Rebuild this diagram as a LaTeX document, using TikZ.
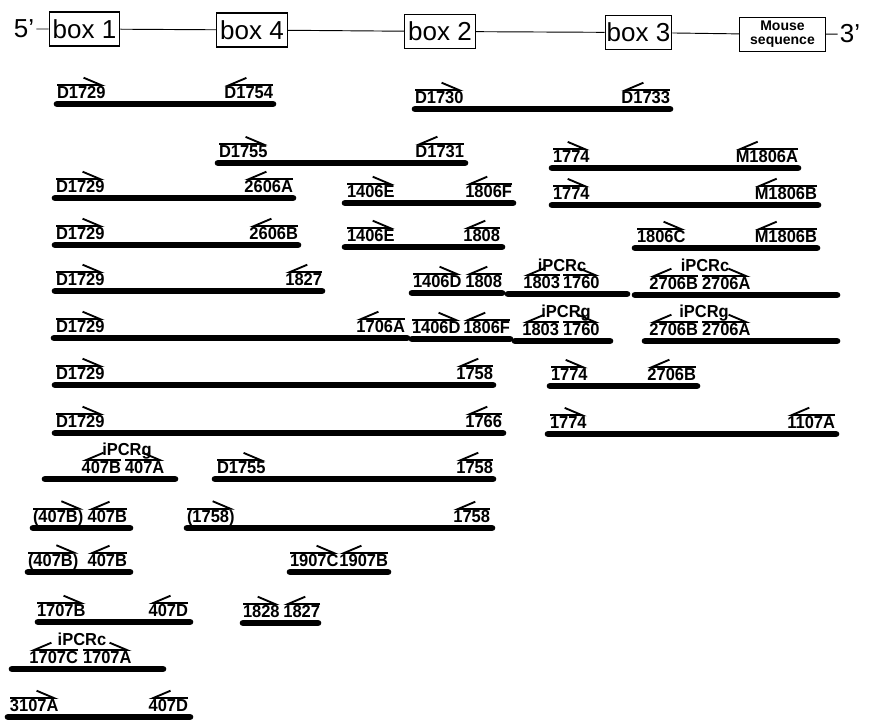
\documentclass[tikz,border=0pt]{standalone}
\usepackage{fontspec}
\setmainfont{Liberation Sans}
\newfontfamily\primfont[FakeStretch=0.95]{Liberation Sans}
\usepackage{tikz}
\usetikzlibrary{arrows.meta}
\tikzset{
  >=Stealth,
  lbl/.style={font=\primfont\bfseries\fontsize{13}{14}\selectfont,inner sep=0pt,outer sep=0pt},
  harp/.style={line width=1.4pt},
  fwd/.style={lbl,anchor=base west,append after command={
      \pgfextra{\let\primnode\tikzlastnode}
      ([yshift=1.4pt]\primnode.north west) edge[harp,-{Straight Barb[left,length=13pt,width=11pt]}]
      ([yshift=1.4pt]\primnode.north east)}},
  rev/.style={lbl,anchor=base east,append after command={
      \pgfextra{\let\primnode\tikzlastnode}
      ([yshift=1.4pt]\primnode.north east) edge[harp,-{Straight Barb[right,length=13pt,width=11pt]}]
      ([yshift=1.4pt]\primnode.north west)}},
  ipcr/.style={lbl,anchor=base},
  frag/.style={line width=5pt,line cap=round},
  exon/.style={draw,line width=0.8pt,minimum width=53pt,minimum height=25.5pt,inner sep=0pt,
               font=\fontsize{19.5}{22}\selectfont},
  msq/.style={draw,line width=0.8pt,minimum width=64pt,minimum height=26pt,inner sep=0pt,align=center,
              font=\bfseries\fontsize{10.5}{10.5}\selectfont},
  tip/.style={inner sep=1.5pt,font=\fontsize{19.5}{22}\selectfont},
  gene/.style={line width=0.7pt},
}
\begin{document}
\begin{tikzpicture}[x=0.75pt,y=-0.75pt]
  \useasboundingbox (0,0) rectangle (869,720);
  % --- gene map ---
  \node[tip] (five) at (24,29) {5’};
  \node[exon] (box1) at (84.5,29) {box 1};
  \node[exon] (box4) at (252,30) {box 4};
  \node[exon] (box2) at (440,31.5) {box 2};
  \node[exon,minimum width=50pt] (box3) at (638.5,32.5) {box 3};
  \node[msq] (mseq) at (782.5,34.5) {Mouse\\sequence};
  \node[tip] (three) at (850,34) {3’};
  \draw[gene] (five) -- (box1) -- (box4) -- (box2) -- (box3) -- (mseq) -- (three);
  % --- row a ---
  \draw[frag] (57,104) -- (273,104);
  \node[fwd] (a1f) at (57,99) {D1729};
  \node[rev] (a1r) at (273,99) {D1754};
  \draw[frag] (415,109) -- (670,109);
  \node[fwd] (a2f) at (415,104) {D1730};
  \node[rev] (a2r) at (670,104) {D1733};
  % --- row b ---
  \draw[frag] (218,163) -- (465,163);
  \node[fwd] (b1f) at (219,158) {D1755};
  \node[rev] (b1r) at (464,158) {D1731};
  \draw[frag] (552,168) -- (798,168);
  \node[fwd] (b2f) at (553,163) {1774};
  \node[rev] (b2r) at (798,163) {M1806A};
  % --- row c ---
  \draw[frag] (55,198) -- (293,198);
  \node[fwd] (c1f) at (56,193) {D1729};
  \node[rev] (c1r) at (293,193) {2606A};
  \draw[frag] (345,203) -- (513,203);
  \node[fwd] (c2f) at (347,198) {1406E};
  \node[rev] (c2r) at (512,198) {1806F};
  \draw[frag] (552,205) -- (818,205);
  \node[fwd] (c3f) at (553,200) {1774};
  \node[rev] (c3r) at (817,200) {M1806B};
  % --- row d ---
  \draw[frag] (55,245) -- (298,245);
  \node[fwd] (d1f) at (56,240) {D1729};
  \node[rev] (d1r) at (298,240) {2606B};
  \draw[frag] (345,247) -- (502,247);
  \node[fwd] (d2f) at (347,242) {1406E};
  \node[rev] (d2r) at (500,242) {1808};
  \draw[frag] (635,248) -- (817,248);
  \node[fwd] (d3f) at (637,243) {1806C};
  \node[rev] (d3r) at (817,243) {M1806B};
  % --- row e ---
  \draw[frag] (55,291) -- (322,291);
  \node[fwd] (e1f) at (56,286) {D1729};
  \node[rev] (e1r) at (322,286) {1827};
  \draw[frag] (412,293) -- (502,293);
  \node[fwd] (e2f) at (413,288) {1406D};
  \node[rev] (e2r) at (502,288) {1808};
  \draw[frag] (508,294) -- (627,294);
  \node[rev] (e3r) at (560,289) {1803};
  \node[fwd] (e3f) at (563,289) {1760};
  \node[ipcr] (e3i) at (562,272) {iPCRc};
  \draw[frag] (635,295) -- (837,295);
  \node[rev] (e4r) at (698,290) {2706B};
  \node[fwd] (e4f) at (702,290) {2706A};
  \node[ipcr] (e4i) at (705,272) {iPCRc};
  % --- row f ---
  \draw[frag] (54,338) -- (407,338);
  \node[fwd] (f1f) at (56,333) {D1729};
  \node[rev] (f1r) at (405,333) {1706A};
  \draw[frag] (412,339) -- (510,339);
  \node[fwd] (f2f) at (412,334) {1406D};
  \node[rev] (f2r) at (510,334) {1806F};
  \draw[frag] (515,341) -- (610,341);
  \node[rev] (f3r) at (559,336) {1803};
  \node[fwd] (f3f) at (563,336) {1760};
  \node[ipcr] (f3i) at (566,318) {iPCRg};
  \draw[frag] (645,341) -- (837,341);
  \node[rev] (f4r) at (698,336) {2706B};
  \node[fwd] (f4f) at (702,336) {2706A};
  \node[ipcr] (f4i) at (704,318) {iPCRg};
  % --- row g ---
  \draw[frag] (55,385) -- (493,385);
  \node[fwd] (g1f) at (56,380) {D1729};
  \node[rev] (g1r) at (493,380) {1758};
  \draw[frag] (550,386) -- (697,386);
  \node[fwd] (g2f) at (551,381) {1774};
  \node[rev] (g2r) at (696,381) {2706B};
  % --- row h ---
  \draw[frag] (55,433) -- (503,433);
  \node[fwd] (h1f) at (56,428) {D1729};
  \node[rev] (h1r) at (502,428) {1766};
  \draw[frag] (548,434) -- (836,434);
  \node[fwd] (h2f) at (550,429) {1774};
  \node[rev] (h2r) at (835,429) {1107A};
  % --- row i ---
  \draw[frag] (45,479) -- (175,479);
  \node[rev] (i1r) at (121,474) {407B};
  \node[fwd] (i1f) at (125,474) {407A};
  \node[ipcr] (i1i) at (127,456) {iPCRg};
  \draw[frag] (215,479) -- (493,479);
  \node[fwd] (i2f) at (217,474) {D1755};
  \node[rev] (i2r) at (493,474) {1758};
  % --- row j ---
  \draw[frag] (33,528) -- (130,528);
  \node[fwd] (j1f) at (33,523) {(407B)};
  \node[rev] (j1r) at (127,523) {407B};
  \draw[frag] (187,528) -- (492,528);
  \node[fwd] (j2f) at (187,523) {(1758)};
  \node[rev] (j2r) at (490,523) {1758};
  % --- row k ---
  \draw[frag] (28,572) -- (130,572);
  \node[fwd] (k1f) at (28,567) {(407B)};
  \node[rev] (k1r) at (127,567) {407B};
  \draw[frag] (290,572) -- (388,572);
  \node[fwd] (k2f) at (290,567) {1907C};
  \node[rev] (k2r) at (388,567) {1907B};
  % --- row l ---
  \draw[frag] (38,622) -- (190,622);
  \node[fwd] (l1f) at (37,617) {1707B};
  \node[rev] (l1r) at (188,617) {407D};
  \draw[frag] (243,623) -- (318,623);
  \node[fwd] (l2f) at (243,618) {1828};
  \node[rev] (l2r) at (320,618) {1827};
  % --- row m ---
  \draw[frag] (12,669) -- (163,669);
  \node[rev] (m1r) at (78,664) {1707C};
  \node[fwd] (m1f) at (83,664) {1707A};
  \node[ipcr] (m1i) at (82,646) {iPCRc};
  % --- row n ---
  \draw[frag] (8,717) -- (190,717);
  \node[fwd] (n1f) at (10,712) {3107A};
  \node[rev] (n1r) at (188,712) {407D};
\end{tikzpicture}
\end{document}
